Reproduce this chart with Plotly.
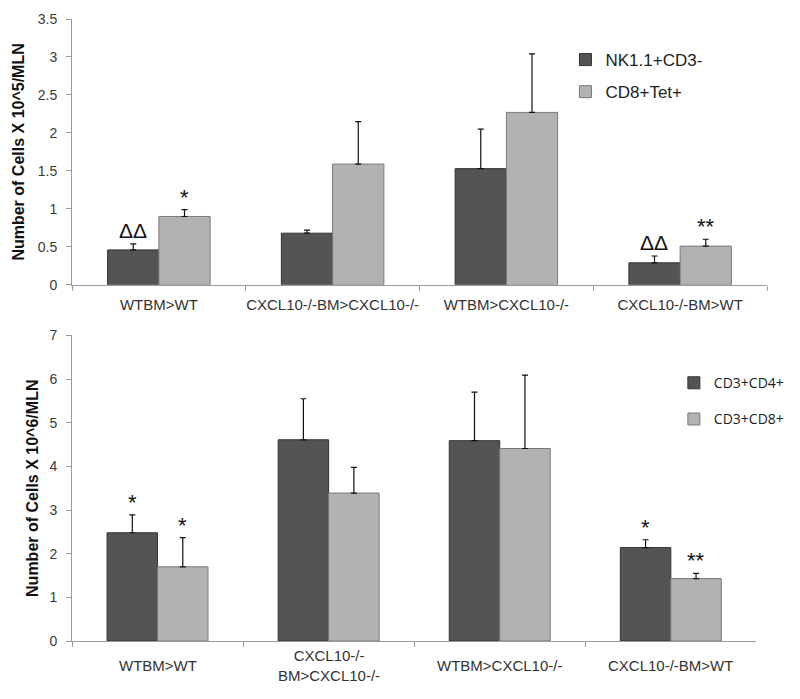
import plotly.graph_objects as go

# ---- data ----
categories = ["WTBM>WT", "CXCL10-/-BM>CXCL10-/-", "WTBM>CXCL10-/-", "CXCL10-/-BM>WT"]
top_ticktext = ["WTBM>WT", "CXCL10-/-BM>CXCL10-/-", "WTBM>CXCL10-/-", "CXCL10-/-BM>WT"]
bottom_ticktext = ["WTBM>WT", "CXCL10-/-<br>BM>CXCL10-/-", "WTBM>CXCL10-/-", "CXCL10-/-BM>WT"]

nk_vals = [0.46, 0.68, 1.53, 0.29]
nk_err = [0.08, 0.04, 0.52, 0.09]
tet_vals = [0.90, 1.59, 2.27, 0.51]
tet_err = [0.09, 0.56, 0.77, 0.09]
top_marks_nk = ["ΔΔ", "", "", "ΔΔ"]
top_marks_tet = ["*", "", "", "**"]

cd4_vals = [2.48, 4.61, 4.59, 2.14]
cd4_err = [0.41, 0.94, 1.11, 0.18]
cd8_vals = [1.70, 3.39, 4.41, 1.43]
cd8_err = [0.67, 0.59, 1.68, 0.12]
bot_marks_cd4 = ["*", "", "", "*"]
bot_marks_cd8 = ["*", "", "", "**"]

top_yticks = [0, 0.5, 1, 1.5, 2, 2.5, 3, 3.5]
top_yticklabels = ["0", "0.5", "1", "1.5", "2", "2.5", "3", "3.5"]
bot_yticks = [0, 1, 2, 3, 4, 5, 6, 7]

DARK = "#545454"
DARK_LINE = "#333333"
LIGHT = "#b2b2b2"
LIGHT_LINE = "#7a7a7a"
FONT = "Liberation Sans, Arial, sans-serif"

fig = go.Figure()

def add_bar(x, y, err, name, fill, line, xa, ya, legend, group):
    fig.add_trace(go.Bar(
        x=x, y=y, name=name, xaxis=xa, yaxis=ya, legend=legend, legendgroup=group,
        marker=dict(color=fill, line=dict(color=line, width=1)),
        error_y=dict(type="data", symmetric=False, array=err, arrayminus=[0] * len(err),
                     color="#111111", thickness=1.2, width=3),
    ))

add_bar(categories, nk_vals, nk_err, "NK1.1+CD3-", DARK, DARK_LINE, "x", "y", "legend", "a")
add_bar(categories, tet_vals, tet_err, "CD8+Tet+", LIGHT, LIGHT_LINE, "x", "y", "legend", "b")
add_bar(categories, cd4_vals, cd4_err, "CD3+CD4+", DARK, DARK_LINE, "x2", "y2", "legend2", "c")
add_bar(categories, cd8_vals, cd8_err, "CD3+CD8+", LIGHT, LIGHT_LINE, "x2", "y2", "legend2", "d")

annotations = []
def add_marks(cats, vals, errs, marks, xref, yref, shift, size, yshift):
    for c, v, e, m in zip(cats, vals, errs, marks):
        if m:
            annotations.append(dict(x=c, y=v + e, xref=xref, yref=yref, text=m, showarrow=False,
                                    xshift=shift, yshift=yshift, yanchor="bottom",
                                    font=dict(family=FONT, size=size, color="#111111")))

add_marks(categories, nk_vals, nk_err, top_marks_nk, "x", "y", -26, 21, 0)
add_marks(categories, tet_vals, tet_err, top_marks_tet, "x", "y", 26, 22, -2)
add_marks(categories, cd4_vals, cd4_err, bot_marks_cd4, "x2", "y2", -25, 22, -2)
add_marks(categories, cd8_vals, cd8_err, bot_marks_cd8, "x2", "y2", 25, 22, -2)

xfont = dict(family=FONT, size=15, color="#333333")
yfont = dict(family=FONT, size=14, color="#3a3a3a")

# bottom category labels (vertically centred like the original)
for c, t in zip(categories, bottom_ticktext):
    annotations.append(dict(x=c, xref="x2", y=0, yref="y2 domain", yshift=-24, yanchor="middle",
                            text=t, showarrow=False, font=xfont))

axis_common = dict(showline=True, linecolor="#9a9a9a", linewidth=1, ticks="outside",
                   tickcolor="#9a9a9a", ticklen=5, showgrid=False, zeroline=False)

fig.update_layout(
    width=800, height=699,
    paper_bgcolor="white", plot_bgcolor="white",
    margin=dict(l=72, r=11, t=14, b=58),
    barmode="group", bargap=0.41, bargroupgap=0,
    annotations=annotations,
    xaxis=dict(domain=[0, 1], anchor="y", type="category", tickson="boundaries",
               tickvals=categories, ticktext=top_ticktext, ticklabelstandoff=6, tickangle=0,
               tickfont=xfont, **axis_common),
    yaxis=dict(domain=[0.5726, 1], anchor="x", range=[0, 3.5], tickvals=top_yticks,
               ticktext=top_yticklabels, ticklabelstandoff=6, tickfont=yfont,
               title=dict(text="<b>Number of Cells X 10^5/MLN</b>", standoff=9,
                          font=dict(family=FONT, size=16, color="#111111")),
               **axis_common),
    xaxis2=dict(domain=[0, 0.9847], anchor="y2", type="category", tickson="boundaries",
                tickvals=categories, showticklabels=False, **axis_common),
    yaxis2=dict(domain=[0, 0.4912], anchor="x2", range=[0, 7], tickvals=bot_yticks,
                ticklabelstandoff=6, tickfont=yfont,
                title=dict(text="<b>Number of Cells X 10^6/MLN</b>", standoff=6,
                           font=dict(family=FONT, size=16, color="#111111")),
                **axis_common),
    legend=dict(x=0.710, y=0.963, xanchor="left", yanchor="top", bgcolor="rgba(0,0,0,0)",
                font=dict(family=FONT, size=17, color="#222222"), tracegroupgap=7,
                itemwidth=30, traceorder="grouped"),
    legend2=dict(x=0.866, y=0.4402, xanchor="left", yanchor="top", bgcolor="rgba(0,0,0,0)",
                 font=dict(family="Open Sans, sans-serif", size=14, color="#222222"),
                 tracegroupgap=15, itemwidth=30, traceorder="grouped"),
    showlegend=True,
)

fig.write_html("out.html", config={"displayModeBar": False},
               post_script="document.body.style.margin='0';document.body.style.overflow='hidden';")
